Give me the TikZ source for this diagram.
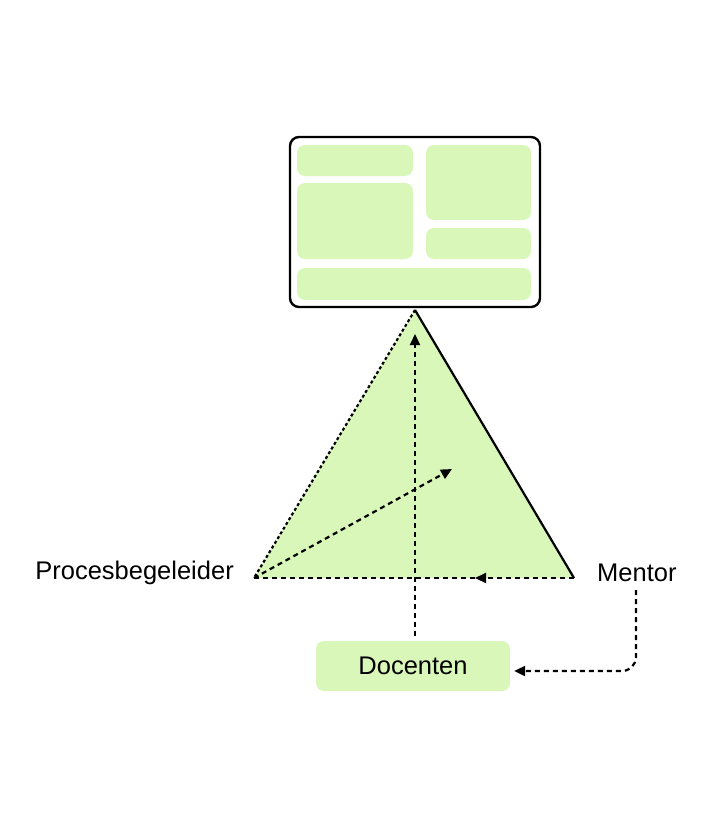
\documentclass[tikz,border=0pt]{standalone}
\usepackage{fontspec}
\setmainfont{Liberation Sans}
\usetikzlibrary{arrows.meta,positioning}

\definecolor{lightgreen}{HTML}{D9F7B8}

\begin{document}
\begin{tikzpicture}[x=1pt,y=-1pt,
    panel/.style={fill=lightgreen,draw=none,rounded corners=8pt},
    role/.style={font=\fontsize{25.5}{30}\selectfont,inner sep=0pt},
    flow/.style={line width=2.2pt,dash pattern=on 5pt off 4pt,-{Triangle[length=11pt,width=10pt]}}]
  \useasboundingbox (0,0) rectangle (713,822);
  % dashboard
  \draw[line width=2.4pt,rounded corners=9pt,fill=white] (290,137) rectangle (540,307);
  \fill[panel] (297,145) rectangle (413,176);
  \fill[panel] (297,183) rectangle (413,259);
  \fill[panel] (426,145) rectangle (531,220);
  \fill[panel] (426,228) rectangle (531,259);
  \fill[panel] (297,268) rectangle (531,300);
  % triangle
  \coordinate (top) at (415,310);
  \coordinate (left corner) at (254,578);
  \coordinate (right corner) at (574,578);
  \coordinate (middle) at (452,469);
  \fill[lightgreen] (top) -- (left corner) -- (right corner) -- cycle;
  \draw[line width=2.2pt] (top) -- (right corner);
  \draw[line width=2.2pt,dash pattern=on 3pt off 2.5pt] (top) -- (left corner);
  \draw[line width=2.2pt,dash pattern=on 5pt off 4pt] (left corner) -- (right corner);
  % roles
  \node[role,anchor=east] (procesbegeleider) at (234,573) {Procesbegeleider};
  \node[role,anchor=west] (mentor) at (597,573) {Mentor};
  \node[panel,role,minimum width=194pt,minimum height=50pt] (docenten) at (413,666) {Docenten};
  % arrows
  \coordinate (tip) at (415,334);
  \coordinate (docent top) at (415,636);
  \coordinate (side) at (475,578);
  \draw[flow] (docent top) -- (tip);
  \draw[flow] (left corner) -- (middle);
  \draw[flow] (right corner) -- (side);
  \draw[flow,rounded corners=14pt] (636,590) |- ([xshift=4pt,yshift=-5pt]docenten.east);
\end{tikzpicture}
\end{document}
